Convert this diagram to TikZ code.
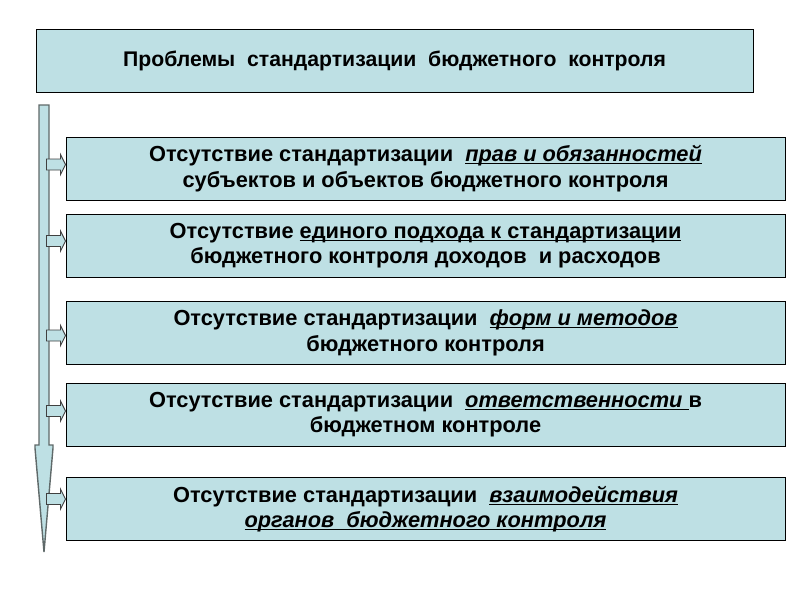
\documentclass[tikz,border=0pt]{standalone}
\usepackage{fontspec}
\setmainfont{Liberation Sans}
\usetikzlibrary{calc}
\definecolor{boxfill}{RGB}{190,224,228}
\definecolor{arrowline}{RGB}{95,105,105}
\newcommand\ulx[1]{\setbox0\hbox{#1}\rlap{\rule[-2.6pt]{\wd0}{1.2pt}}\box0}
\tikzset{
  boxstyle/.style={draw=black, line width=1pt, fill=boxfill, minimum width=719pt, minimum height=63pt,
     inner sep=0pt, align=center, font=\bfseries\fontsize{21.8}{25.5}\selectfont},
  titlestyle/.style={draw=black, line width=1pt, fill=boxfill, minimum width=717pt, minimum height=63pt,
     inner sep=0pt, align=center, font=\bfseries\fontsize{21.2}{24}\selectfont},
  bigarrow/.style={draw=arrowline, line width=1.4pt, fill=boxfill, line join=miter},
  smallarrow/.style={draw=black!75, line width=0.9pt, fill=boxfill, line join=miter}
}
\begin{document}
\begin{tikzpicture}[x=1pt,y=-1pt]
\useasboundingbox (0,0) rectangle (800,600);
\node[titlestyle] (t) at (394.5,60.5) {\raisebox{-1pt}{Проблемы\ \ стандартизации\ \ бюджетного\ \ контроля}};
\node[boxstyle] (b1) at (425.5,168.5) {Отсутствие\ стандартизации\ \ \ulx{\itshape прав\ и\ обязанностей}\\субъектов и объектов бюджетного контроля};
\node[boxstyle] (b2) at (425.5,245.5) {Отсутствие\ \ulx{единого\ подхода\ к стандартизации}\\бюджетного контроля доходов\ \ и расходов};
\node[boxstyle] (b3) at (425.5,333) {Отсутствие\ стандартизации\ \ \ulx{\itshape форм\ и\ методов}\\бюджетного контроля};
\node[boxstyle] (b4) at (425.5,414.5) {Отсутствие\ стандартизации\ \ \ulx{\itshape ответственности\ }в\\бюджетном контроле};
\node[boxstyle] (b5) at (425.5,509) {Отсутствие\ стандартизации\ \ \ulx{\itshape взаимодействия}\\\ulx{\itshape органов\ \ бюджетного\ контроля}};
\coordinate (atop) at (44,105);
\coordinate (atip) at (44,552);
\draw[bigarrow] ($(atop)+(-5,0)$) -- ($(atop)+(5,0)$) -- (49,445) -- (53,445) -- (53,448) -- (atip) -- (35,448) -- (35,445) -- (39,445) -- cycle;
\foreach \b/\dy in {b1/-4, b2/-4.5, b3/2.5, b4/-3.5, b5/-10} {
  \begin{scope}[shift={($(\b.west)+(0,\dy)$)}]
    \draw[smallarrow] (0,0) -- (-5,-10) -- (-5,-5.5) -- (-19,-5.5) -- (-19,5.5) -- (-5,5.5) -- (-5,10) -- cycle;
  \end{scope}
}
\end{tikzpicture}
\end{document}
